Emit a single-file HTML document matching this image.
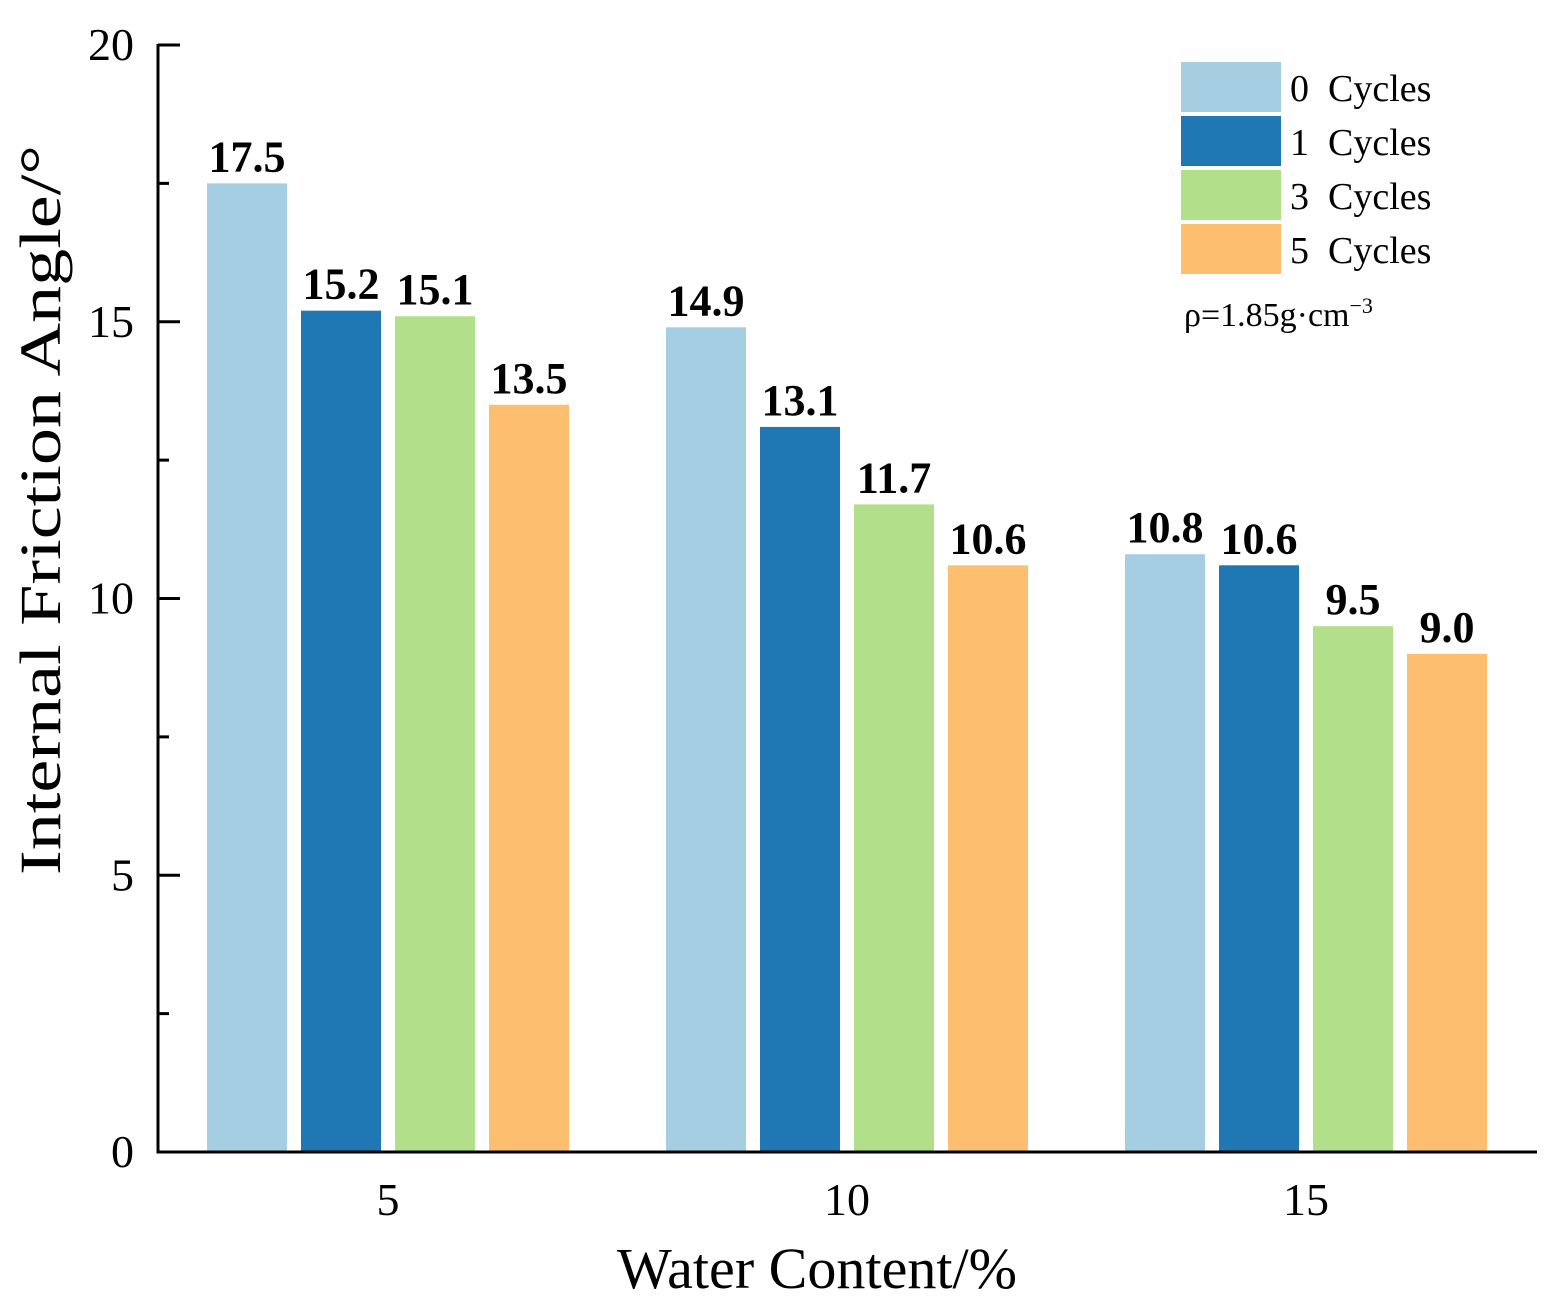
<!DOCTYPE html>
<html><head><meta charset="utf-8"><style>
body{margin:0;background:#fff;}
svg{display:block;font-family:"Liberation Serif",serif;}
</style></head><body>
<svg id="chart" width="1561" height="1313">
<g id="marks"></g>
<g id="axes"></g>
<g id="legend"></g>
<text x="1184" y="326" font-size="34">ρ=1.85g·cm<tspan font-size="22" dy="-13">−3</tspan></text>
<text x="617" y="1288" font-size="58" textLength="400" lengthAdjust="spacingAndGlyphs">Water Content/%</text>
<text transform="translate(60,875) rotate(-90)" font-size="58" textLength="730" lengthAdjust="spacingAndGlyphs">Internal Friction Angle/°</text>
</svg>
<script>
const categories=["5","10","15"];
const seriesNames=["0  Cycles","1  Cycles","3  Cycles","5  Cycles"];
const cycles0=[17.5,14.9,10.8];
const cycles1=[15.2,13.1,10.6];
const cycles3=[15.1,11.7,9.5];
const cycles5=[13.5,10.6,9.0];
const yTicks=[0,5,10,15,20];
const colors=["#a6cee3","#1f78b4","#b2df8a","#fdbf6f"];
const series=[cycles0,cycles1,cycles3,cycles5];
const NS="http://www.w3.org/2000/svg";
const y0=1152,yTop=45,x0=158,x1=1537;
const y=v=>y0-(v/20)*(y0-yTop);
const xc=i=>388+i*459;
const bw=80,step=94;
function mk(tag,attrs,parent){const e=document.createElementNS(NS,tag);for(const k in attrs)e.setAttribute(k,attrs[k]);parent.appendChild(e);return e;}
const marks=document.getElementById('marks'),axes=document.getElementById('axes'),leg=document.getElementById('legend');
series.forEach((s,si)=>{s.forEach((v,ci)=>{
 const bx=xc(ci)-181+si*step;
 const r=mk('rect',{x:bx,y:y(v),width:bw,height:y0-y(v),fill:colors[si]},marks);
 
 
 const t=mk('text',{x:bx+bw/2,y:y(v)-12,'font-size':44,'font-weight':'bold','text-anchor':'middle'},marks);
 t.textContent=v.toFixed(1);
 
 
});});
mk('line',{x1:x0,y1:y0,x2:x1,y2:y0,stroke:'#000','stroke-width':3},axes);
mk('line',{x1:x0,y1:yTop-1,x2:x0,y2:y0+1.5,stroke:'#000','stroke-width':3},axes);
yTicks.forEach(v=>{
 mk('line',{x1:x0,y1:y(v),x2:x0+22,y2:y(v),stroke:'#000','stroke-width':3},axes);
 const t=mk('text',{x:134,y:y(v)+15,'font-size':46,'text-anchor':'end'},axes);
 t.textContent=v;
 
 
 if(v<20)mk('line',{x1:x0,y1:y(v+2.5),x2:x0+11,y2:y(v+2.5),stroke:'#000','stroke-width':3},axes);
});
categories.forEach((c,i)=>{
 const t=mk('text',{x:xc(i),y:1215,'font-size':46,'text-anchor':'middle'},axes);
 t.textContent=c;
 
 
});
seriesNames.forEach((n,i)=>{
 const r=mk('rect',{x:1181,y:62+i*54,width:100,height:50,fill:colors[i]},leg);
 
 
 const t=mk('text',{x:1290,y:101+i*54,'font-size':38},leg);
 t.textContent=n;
 t.setAttribute('xml:space','preserve');
 t.style.whiteSpace='pre';
 
 
});
</script>
</body></html>
